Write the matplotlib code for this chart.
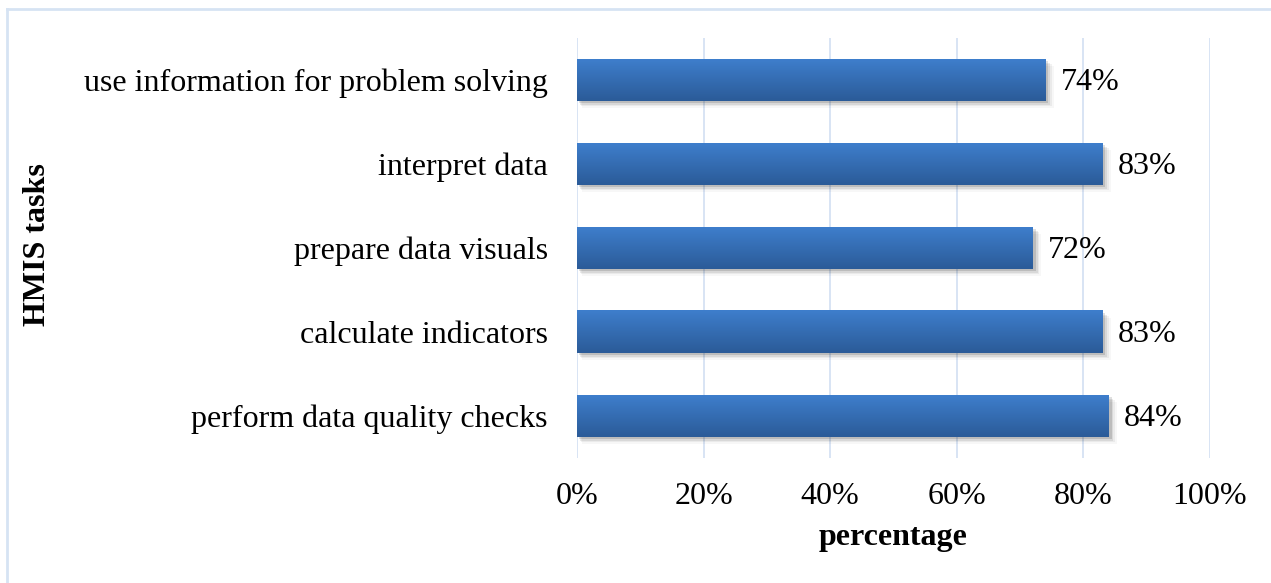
import numpy as np
import matplotlib.pyplot as plt
from matplotlib.lines import Line2D
from matplotlib.patches import Rectangle

tasks = [
    "perform data quality checks",
    "calculate indicators",
    "prepare data visuals",
    "interpret data",
    "use information for problem solving",
]
values = [84, 83, 72, 83, 74]
xticks = [0, 20, 40, 60, 80, 100]

plt.rcParams['font.family'] = ['Liberation Serif', 'DejaVu Serif']
fs = 23

fig = plt.figure(figsize=(12.71, 5.83), dpi=100)
ax = fig.add_axes([577 / 1271, 1 - 458 / 583, (1210 - 577) / 1271, 420 / 583])

# light frame round the chart area (runs off the right and bottom)
fig.add_artist(Line2D([7 / 1271, 1.0], [1 - 9 / 583, 1 - 9 / 583], color="#d6e3f3", lw=2))
fig.add_artist(Line2D([7 / 1271, 7 / 1271], [0.0, 1 - 9 / 583], color="#d6e3f3", lw=2))

# vertical gridlines
for t in xticks:
    ax.axvline(t, color="#d8e4f4", lw=1.4, zorder=0)

# vertical gradient: lighter on top, darker at the bottom
grad = np.linspace(0, 1, 64).reshape(-1, 1)
top = np.array([0x3e, 0x7e, 0xcc]) / 255
bot = np.array([0x2b, 0x5b, 0x98]) / 255
img = top + (bot - top) * grad[..., None]
img = img.reshape(64, 1, 3)

h = 0.5
for i, v in enumerate(values):
    # soft shadow under each bar
    for k, a in enumerate([0.12, 0.08, 0.05, 0.03]):
        ax.add_patch(Rectangle((0.3 + k * 0.15, i - h / 2 - 0.025 - k * 0.02), v + 0.15 + k * 0.15, h,
                               facecolor="black", alpha=a, lw=0, zorder=1))
    ax.imshow(img, extent=[0, v, i - h / 2, i + h / 2], aspect="auto",
              origin="upper", zorder=2, interpolation="bilinear")
    ax.text(v + 2.4, i - 0.025, f"{v}%", va="center", ha="left", fontsize=fs, color="black")

ax.set_xlim(0, 100)
ax.set_ylim(-0.5, len(tasks) - 0.5)
ax.set_xticks(xticks)
ax.set_xticklabels([f"{t}%" for t in xticks], fontsize=fs)
ax.set_yticks(range(len(tasks)))
ax.set_yticklabels(tasks, fontsize=fs)
ax.tick_params(length=0, pad=21, axis="y")
ax.tick_params(length=0, pad=17, axis="x")
for s in ax.spines.values():
    s.set_visible(False)

ax.set_xlabel("percentage", fontsize=fs, fontweight="bold", labelpad=9)
fig.text(38 / 1271, 1 - 245 / 583, "HMIS tasks", rotation=90, fontsize=fs,
         fontweight="bold", ha="center", va="center")

fig.savefig("out.png", dpi=100)
